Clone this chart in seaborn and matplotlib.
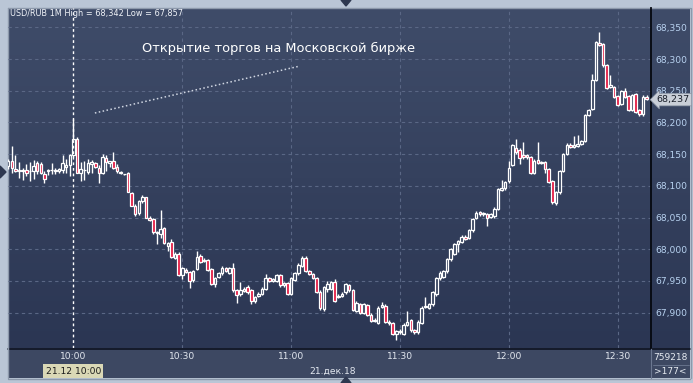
import numpy as np
import pandas as pd
import matplotlib
matplotlib.use("Agg")
import matplotlib.pyplot as plt
import seaborn as sns
from matplotlib.colors import LinearSegmentedColormap
from matplotlib.patches import Rectangle, Polygon
from matplotlib.transforms import blended_transform_factory

# ---------------- data (USD/RUB, 1-minute candles, 21.12.2018) ----------------
start_time = "2018-12-21 09:42"

open_ = [68.131,68.140,68.127,68.124,68.124,68.125,68.123,68.124,68.136,68.134,
         68.119,68.124,68.125,68.124,68.124,68.125,68.130,68.133,68.148,68.174,
         68.121,68.125,68.122,68.134,68.136,68.128,68.121,68.144,68.136,68.140,
         68.130,68.122,68.118,68.120,68.089,68.069,68.058,68.076,68.082,68.050,
         68.048,68.028,68.024,68.034,68.005,68.011,67.987,67.993,67.960,67.968,
         67.964,67.951,67.969,67.990,67.983,67.983,67.969,67.946,67.956,67.962,
         67.970,67.963,67.970,67.935,67.929,67.934,67.940,67.935,67.918,67.926,
         67.930,67.937,67.954,67.950,67.950,67.959,67.943,67.947,67.930,67.952,
         67.962,67.974,67.987,67.966,67.961,67.955,67.933,67.906,67.938,67.937,
         67.948,67.925,67.926,67.932,67.943,67.935,67.903,67.913,67.900,67.912,
         67.897,67.887,67.884,67.909,67.911,67.886,67.883,67.866,67.869,67.867,
         67.881,67.888,67.872,67.869,67.884,67.909,67.908,67.913,67.929,67.954,
         67.956,67.965,67.984,67.993,68.009,68.012,68.020,68.018,68.030,68.049,
         68.059,68.055,68.056,68.051,68.052,68.064,68.094,68.096,68.107,68.133,
         68.159,68.157,68.148,68.149,68.145,68.120,68.141,68.136,68.137,68.126,
         68.108,68.073,68.090,68.124,68.150,68.165,68.162,68.163,68.166,68.171,
         68.212,68.221,68.267,68.326,68.324,68.290,68.256,68.256,68.242,68.229,
         68.249,68.242,68.220,68.245,68.220,68.213,68.241]

high = [68.143,68.163,68.149,68.137,68.128,68.134,68.138,68.141,68.140,68.137,
        68.123,68.127,68.136,68.128,68.129,68.149,68.142,68.150,68.206,68.177,
        68.138,68.140,68.142,68.141,68.137,68.133,68.150,68.148,68.140,68.153,
        68.135,68.124,68.119,68.122,68.090,68.071,68.078,68.085,68.083,68.052,
        68.050,68.029,68.062,68.035,68.011,68.016,67.996,67.996,67.972,67.970,
        67.966,67.968,67.997,67.992,67.987,67.985,67.971,67.957,67.964,67.974,
        67.972,67.972,67.979,67.937,67.948,67.940,67.943,67.937,67.927,67.932,
        67.940,67.961,67.956,67.955,67.961,67.961,67.949,67.949,67.956,67.964,
        67.978,67.989,67.989,67.968,67.963,67.957,67.935,67.942,67.950,67.950,
        67.953,67.929,67.932,67.947,67.945,67.937,67.918,67.915,67.916,67.914,
        67.899,67.891,67.910,67.917,67.913,67.888,67.885,67.873,67.874,67.883,
        67.903,67.890,67.874,67.888,67.910,67.924,67.915,67.934,67.956,67.965,
        67.968,67.986,68.002,68.010,68.015,68.022,68.022,68.032,68.049,68.060,
        68.061,68.059,68.058,68.058,68.066,68.097,68.110,68.108,68.140,68.166,
        68.174,68.159,68.170,68.151,68.147,68.142,68.170,68.140,68.139,68.128,
        68.110,68.092,68.125,68.152,68.167,68.167,68.179,68.180,68.173,68.214,
        68.222,68.277,68.329,68.342,68.326,68.292,68.275,68.258,68.244,68.251,
        68.255,68.244,68.245,68.247,68.222,68.243,68.243]

low = [68.127,68.120,68.122,68.112,68.110,68.116,68.107,68.111,68.119,68.118,
       68.105,68.117,68.119,68.118,68.121,68.120,68.120,68.115,68.145,68.120,
       68.107,68.110,68.118,68.120,68.129,68.105,68.118,68.123,68.130,68.126,
       68.121,68.119,68.117,68.090,68.069,68.053,68.054,68.073,68.050,68.045,
       68.024,68.008,68.018,68.008,67.998,67.986,67.985,67.958,67.953,67.962,
       67.939,67.949,67.967,67.978,67.980,67.966,67.944,67.940,67.954,67.960,
       67.964,67.961,67.933,67.915,67.927,67.932,67.930,67.914,67.916,67.924,
       67.928,67.935,67.948,67.948,67.948,67.941,67.941,67.928,67.928,67.950,
       67.960,67.972,67.964,67.959,67.953,67.931,67.905,67.903,67.933,67.935,
       67.917,67.923,67.924,67.930,67.933,67.902,67.901,67.898,67.898,67.895,
       67.885,67.885,67.882,67.907,67.884,67.881,67.865,67.857,67.867,67.865,
       67.879,67.870,67.867,67.867,67.882,67.907,67.906,67.911,67.927,67.952,
       67.954,67.963,67.982,67.991,67.996,68.010,68.015,68.016,68.028,68.047,
       68.053,68.053,68.037,68.049,68.050,68.062,68.092,68.094,68.105,68.131,
       68.150,68.135,68.143,68.143,68.119,68.118,68.134,68.134,68.120,68.104,
       68.072,68.070,68.088,68.122,68.148,68.160,68.160,68.161,68.164,68.169,
       68.210,68.219,68.265,68.320,68.288,68.253,68.254,68.239,68.226,68.227,
       68.239,68.218,68.218,68.215,68.211,68.211,68.235]

close = [68.140,68.128,68.124,68.124,68.124,68.121,68.124,68.131,68.124,68.120,
         68.111,68.125,68.125,68.125,68.127,68.136,68.133,68.148,68.174,68.120,
         68.126,68.125,68.136,68.137,68.130,68.121,68.145,68.137,68.140,68.129,
         68.123,68.120,68.118,68.090,68.069,68.055,68.076,68.083,68.050,68.046,
         68.028,68.025,68.032,68.010,68.010,67.988,67.993,67.960,67.970,67.964,
         67.950,67.966,67.988,67.980,67.982,67.968,67.946,67.955,67.962,67.970,
         67.966,67.970,67.935,67.928,67.935,67.938,67.932,67.918,67.925,67.930,
         67.937,67.954,67.950,67.953,67.959,67.943,67.947,67.930,67.954,67.962,
         67.976,67.987,67.966,67.961,67.955,67.933,67.907,67.940,67.946,67.948,
         67.919,67.927,67.930,67.945,67.935,67.904,67.916,67.900,67.914,67.897,
         67.887,67.889,67.908,67.912,67.886,67.883,67.867,67.871,67.871,67.881,
         67.886,67.872,67.869,67.886,67.908,67.911,67.913,67.932,67.954,67.963,
         67.966,67.984,68.000,68.008,68.013,68.020,68.017,68.030,68.047,68.058,
         68.055,68.057,68.049,68.056,68.064,68.095,68.096,68.106,68.129,68.164,
         68.154,68.144,68.145,68.145,68.121,68.140,68.136,68.138,68.126,68.106,
         68.074,68.090,68.123,68.150,68.165,68.162,68.164,68.166,68.171,68.212,
         68.220,68.267,68.327,68.322,68.290,68.255,68.259,68.241,68.228,68.249,
         68.241,68.220,68.243,68.217,68.213,68.241,68.237]

price_ticks = [67.90, 67.95, 68.00, 68.05, 68.10, 68.15, 68.20, 68.25, 68.30, 68.35]
time_ticks = ["10:00", "10:30", "11:00", "11:30", "12:00", "12:30"]
cursor_time = "10:00"
date_label = "21.дек.18"
cursor_label = "21.12 10:00"
title_text = "USD/RUB 1M High = 68,342 Low = 67,857"
annotation_text = "Открытие торгов на Московской бирже"
last_price = 68.237
volume_label = "759218"
count_label = ">177<"

# ---------------- frame ----------------
sns.set_theme(style="dark")
plt.rcParams["font.family"] = ["DejaVu Sans"]

W, H = 693, 383
L, R, T, B = 8, 651, 8, 348
fig = plt.figure(figsize=(W / 100, H / 100), dpi=100, facecolor="#bac6d6")

# background layer in pixel coordinates
bg = fig.add_axes([0, 0, 1, 1])
bg.set_xlim(0, W)
bg.set_ylim(H, 0)
bg.axis("off")
grad_cmap = LinearSegmentedColormap.from_list("bgc", ["#3f4c69", "#2b3653"])
bg.imshow(np.linspace(0, 1, 200).reshape(-1, 1), cmap=grad_cmap, aspect="auto",
          extent=(L, 690, B, T), zorder=0)
bg.add_patch(Rectangle((L, B), 690 - L, 30, facecolor="#3d4862", edgecolor="none", zorder=1))
bg.plot([L, 690], [B + 0.5, B + 0.5], color="#0d1220", lw=1.2, zorder=2)
bg.plot([R - 0.5, R - 0.5], [B, 378], color="#6c7891", lw=0.8, zorder=2)
bg.plot([653, 689], [365, 365], color="#6c7891", lw=0.6, zorder=2)
bg.plot([690.5, 690.5], [T, 378], color="#8d99ab", lw=1, zorder=2)
bg.plot([L, 690], [378.5, 378.5], color="#8d99ab", lw=1, zorder=2)
bg.plot([L - 0.5, L - 0.5], [T, 378], color="#8d99ab", lw=1, zorder=2)
bg.plot([L, 690], [T - 0.5, T - 0.5], color="#8d99ab", lw=1, zorder=2)
# navigation triangles
bg.add_patch(Polygon([[341, 0], [351, 0], [346, 6]], closed=True, color="#2e3850", zorder=3))
bg.add_patch(Polygon([[341, 383], [351, 383], [346, 377]], closed=True, color="#2e3850", zorder=3))
bg.add_patch(Polygon([[0, 166], [0, 178], [6, 172]], closed=True, color="#2e3850", zorder=3))
bg.text(670, 357, volume_label, ha="center", va="center", fontsize=6.5, color="#e6ebf2", zorder=3)
bg.text(670, 372, count_label, ha="center", va="center", fontsize=6.5, color="#e6ebf2", zorder=3)

# ---------------- main chart ----------------
df = pd.DataFrame({"open": open_, "high": high, "low": low, "close": close})
df["time"] = pd.date_range(start_time, periods=len(df), freq="min")
df["x"] = np.arange(len(df))
df["up"] = df["close"] >= df["open"]
hhmm = df["time"].dt.strftime("%H:%M").tolist()

ax = fig.add_axes([L / W, 1 - B / H, (R - L) / W, (B - T) / H])
ax.set_facecolor("none")
ax.set_xlim(-0.05, 177.2)
ax.set_ylim(67.8443, 68.3806)

# grid
grid_ls = (0, (3, 3))
for p in price_ticks:
    ax.axhline(p, color="#5a6785", lw=0.8, ls=grid_ls, zorder=1)
tick_x = [hhmm.index(t) for t in time_ticks]
for tx, t in zip(tick_x, time_ticks):
    if t != cursor_time:
        ax.axvline(tx, color="#5a6785", lw=0.8, ls=grid_ls, zorder=1)

# candles
ax.vlines(df["x"], df["low"], df["high"], color="white", lw=1.0, zorder=3)
body_bottom = df[["open", "close"]].min(axis=1)
body_h = (df["close"] - df["open"]).abs().clip(lower=0.0008)
fills = np.where(df["up"], "#333f5b", "#e3163f")
ax.bar(df["x"], body_h, bottom=body_bottom, width=0.7, color=fills,
       edgecolor="white", linewidth=0.9, zorder=4)

# cursor line at 10:00
cx = hhmm.index(cursor_time)
ax.axvline(cx, color="white", lw=1.0, ls=(0, (2, 2)), zorder=5)

# axes styling
ax.set_yticks(price_ticks)
ax.set_yticklabels([f"{p:.3f}".replace(".", ",") for p in price_ticks])
ax.yaxis.tick_right()
ax.tick_params(axis="y", length=0, pad=3, labelsize=6.6, labelcolor="#b8d2f0")
ax.set_xticks(tick_x)
ax.set_xticklabels(time_ticks)
ax.tick_params(axis="x", length=0, pad=3, labelsize=6.6, labelcolor="#e3e8f0")
ax.grid(False)
for s in ["top", "left"]:
    ax.spines[s].set_visible(False)
ax.spines["right"].set_color("#05080f")
ax.spines["right"].set_linewidth(1.3)
ax.spines["bottom"].set_visible(False)

# texts
ax.text(0.003, 0.997, title_text, transform=ax.transAxes, ha="left", va="top",
        fontsize=5.9, color="#f0f3f8", zorder=6)
ax.text(74.6, 68.316, annotation_text, ha="center", va="center", fontsize=9.4,
        color="white", zorder=6)
ax.plot([23.9, 80.4], [68.215, 68.289], color="#d0d6e2", lw=1.1, ls=(0, (1, 1.6)), zorder=6)

btrans = blended_transform_factory(ax.transData, ax.transAxes)
ax.text(cx, -0.068, cursor_label, transform=btrans, ha="center", va="center",
        fontsize=6.6, color="#1a1a1a", zorder=6,
        bbox=dict(boxstyle="square,pad=0.25", fc="#dad8b6", ec="none"))
ax.text(0.505, -0.068, date_label, transform=ax.transAxes, ha="center", va="center",
        fontsize=6.6, color="#e3e8f0", zorder=6)

rtrans = blended_transform_factory(ax.transAxes, ax.transData)
ax.text(1.009, last_price - 0.001, f"{last_price:.3f}".replace(".", ","), transform=rtrans,
        ha="left", va="center", fontsize=6.8, color="#1a1f2a", zorder=7, clip_on=False,
        bbox=dict(boxstyle="larrow,pad=0.18", fc="#c9ced7", ec="#8a93a3", lw=0.5))

fig.savefig("out.png", dpi=100, facecolor=fig.get_facecolor())
